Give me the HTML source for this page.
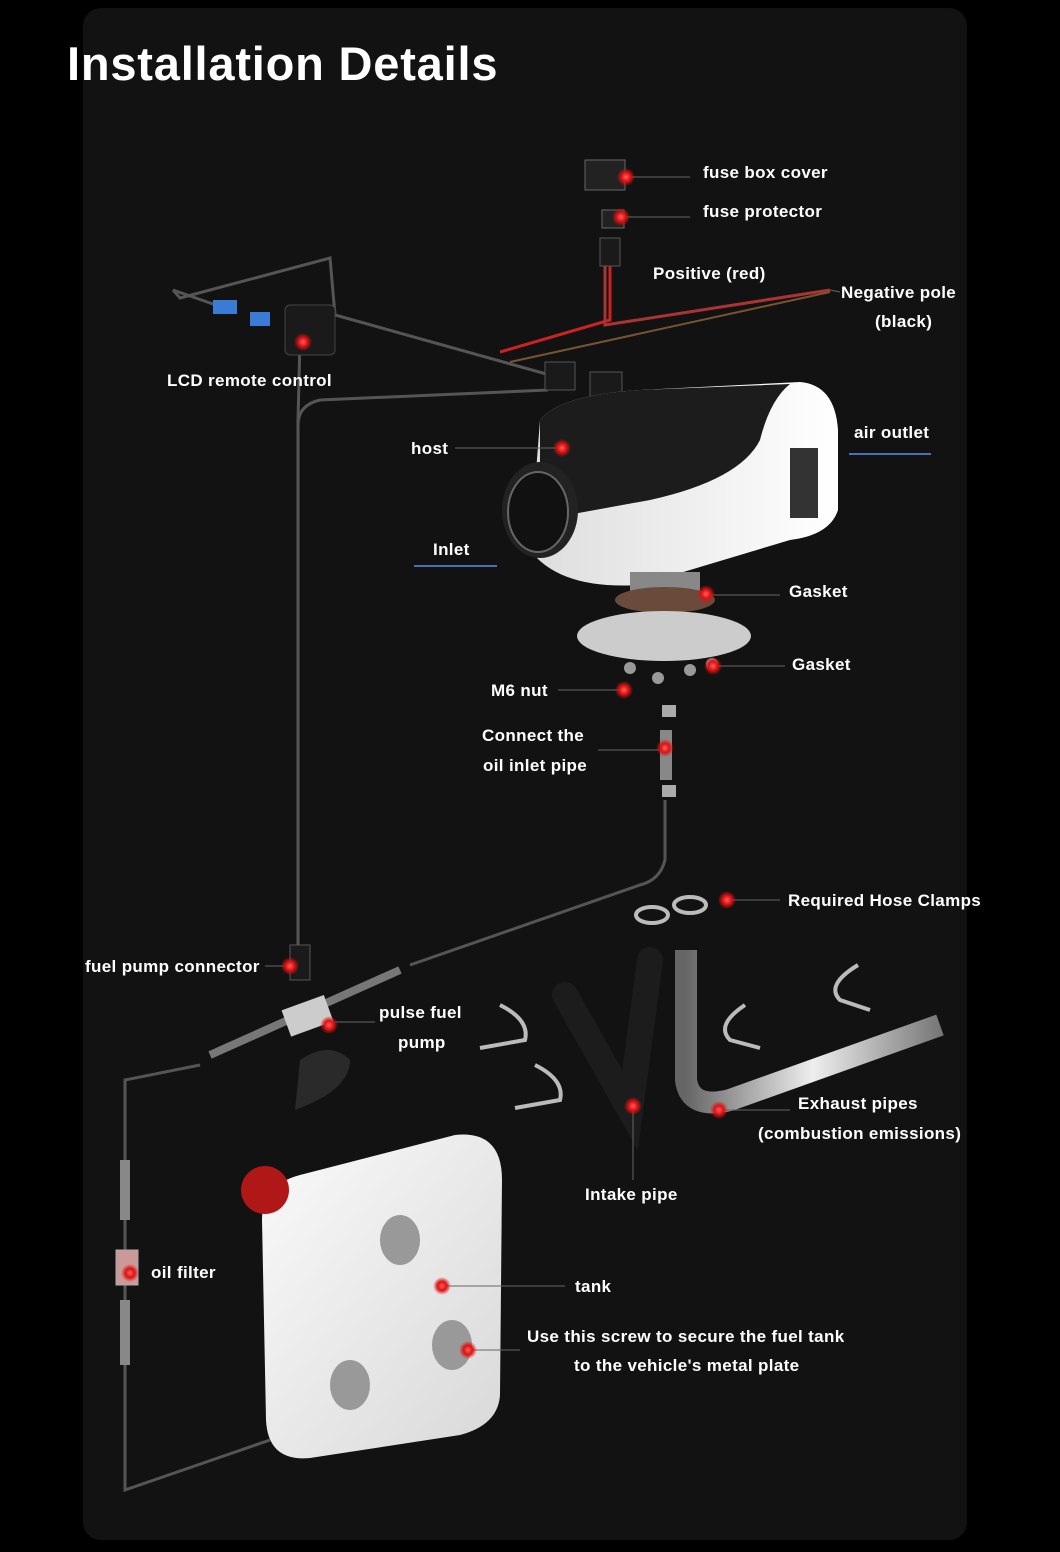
<!DOCTYPE html>
<html><head><meta charset="utf-8"><style>
html,body{margin:0;padding:0;background:#000;}
svg{display:block}
text{font-family:"Liberation Sans",sans-serif;fill:#fff;font-weight:bold;font-size:17px;letter-spacing:0.35px}
</style></head><body>
<svg width="1060" height="1552" viewBox="0 0 1060 1552" xmlns="http://www.w3.org/2000/svg">
<defs>
<radialGradient id="dot"><stop offset="0" stop-color="#ff6060"/><stop offset="0.5" stop-color="#e01010"/><stop offset="1" stop-color="#e01010" stop-opacity="0"/></radialGradient>
<linearGradient id="body" x1="0" x2="1"><stop offset="0" stop-color="#ddd"/><stop offset="1" stop-color="#fff"/></linearGradient>
<linearGradient id="tank" x1="0" y1="0" x2="1" y2="1"><stop offset="0" stop-color="#fafafa"/><stop offset="1" stop-color="#d8d8d8"/></linearGradient>
<linearGradient id="pipe" x1="0" x2="1"><stop offset="0" stop-color="#666"/><stop offset="0.5" stop-color="#eee"/><stop offset="1" stop-color="#777"/></linearGradient>
</defs>
<rect width="1060" height="1552" fill="#000"/>
<rect x="83" y="8" width="884" height="1532" rx="18" fill="#121212"/>
<text x="67" y="80" style="font-size:47px;letter-spacing:0.8px">Installation Details</text>

<g fill="none" stroke="#555" stroke-width="3">
<path d="M173 290 L180 298 L330 258 L335 315 L550 375"/>
<path d="M173 290 L230 310 M300 340 L298 420 L298 950"/>
<path d="M548 390 L320 400 Q298 405 298 425"/>
<path d="M665 800 L665 860 Q660 880 640 885 L410 965"/>
<path d="M200 1065 L125 1080 L125 1490 L270 1440"/>
</g>
<path d="M610 250 L610 320 L500 352" stroke="#c22" stroke-width="3" fill="none"/>
<path d="M605 250 L605 325 L830 290" stroke="#a33" stroke-width="3" fill="none"/>
<path d="M510 362 L830 292" stroke="#753" stroke-width="2" fill="none"/>

<rect x="585" y="160" width="40" height="30" fill="#222" stroke="#666"/>
<rect x="602" y="210" width="22" height="18" fill="#222" stroke="#666"/>
<rect x="600" y="238" width="20" height="28" fill="#1a1a1a" stroke="#555"/>
<rect x="285" y="305" width="50" height="50" rx="5" fill="#1a1a1a" stroke="#444"/>
<rect x="213" y="300" width="24" height="14" fill="#3a7bd5"/>
<rect x="250" y="312" width="20" height="14" fill="#3a7bd5"/>
<rect x="545" y="362" width="30" height="28" fill="#1a1a1a" stroke="#555"/>
<rect x="590" y="372" width="32" height="26" fill="#1a1a1a" stroke="#555"/>
<rect x="290" y="945" width="20" height="35" fill="#1a1a1a" stroke="#555"/>

<path d="M540 420 Q560 395 640 390 L800 382 Q835 385 838 430 L838 510 Q830 535 790 540 L640 585 Q560 590 530 550 Z" fill="url(#body)"/>
<path d="M540 420 Q560 395 640 390 L790 384 Q770 400 760 440 Q740 480 650 500 L540 520 Z" fill="#1c1c1c"/>
<ellipse cx="540" cy="510" rx="38" ry="48" fill="#222"/>
<ellipse cx="538" cy="512" rx="30" ry="40" fill="#111" stroke="#666" stroke-width="2"/>
<rect x="790" y="448" width="28" height="70" fill="#333"/>
<rect x="630" y="572" width="70" height="22" fill="#888"/>
<ellipse cx="665" cy="600" rx="50" ry="13" fill="#6a4a3a"/>
<ellipse cx="664" cy="636" rx="87" ry="25" fill="#ccc"/>
<g fill="#999"><circle cx="630" cy="668" r="6"/><circle cx="658" cy="678" r="6"/><circle cx="690" cy="670" r="6"/><circle cx="712" cy="664" r="6"/></g>
<rect x="662" y="705" width="14" height="12" fill="#aaa"/>
<rect x="660" y="730" width="12" height="50" fill="#888"/>
<rect x="662" y="785" width="14" height="12" fill="#aaa"/>

<path d="M210 1055 L400 970" stroke="#777" stroke-width="8"/>
<rect x="285" y="1002" width="45" height="28" fill="#ccc" transform="rotate(-20 307 1016)"/>
<path d="M300 1060 Q330 1040 350 1060 Q350 1090 295 1110 Z" fill="#2a2a2a"/>
<rect x="116" y="1250" width="22" height="35" fill="#c99" stroke="#aaa"/>
<rect x="120" y="1160" width="10" height="60" fill="#888"/><rect x="120" y="1300" width="10" height="65" fill="#888"/>

<path d="M565 995 L630 1110 L650 960" stroke="#1c1c1c" stroke-width="26" fill="none" stroke-linecap="round"/>
<path d="M686 950 L686 1080 Q690 1110 730 1100 L940 1025" stroke="url(#pipe)" stroke-width="22" fill="none"/>
<g fill="none" stroke="#bbb" stroke-width="4">
<path d="M500 1005 Q530 1020 525 1040 L480 1048"/>
<path d="M535 1065 Q565 1080 560 1100 L515 1108"/>
<path d="M745 1005 Q715 1025 730 1040 L760 1048"/>
<path d="M858 965 Q825 985 840 1000 L870 1010"/>
<ellipse cx="652" cy="915" rx="16" ry="8"/><ellipse cx="690" cy="905" rx="16" ry="8"/>
</g>

<path d="M300 1175 L455 1135 Q502 1130 502 1180 L500 1395 Q498 1425 460 1435 L310 1458 Q268 1462 266 1420 L262 1220 Q262 1185 300 1175 Z" fill="url(#tank)"/>
<circle cx="265" cy="1190" r="24" fill="#b01818"/>
<ellipse cx="400" cy="1240" rx="20" ry="25" fill="#999"/>
<ellipse cx="452" cy="1345" rx="20" ry="25" fill="#999"/>
<ellipse cx="350" cy="1385" rx="20" ry="25" fill="#999"/>

<g stroke="#666" stroke-width="1" fill="none">
<line x1="626" y1="177" x2="690" y2="177"/><line x1="621" y1="217" x2="690" y2="217"/>
<line x1="830" y1="290" x2="840" y2="292"/>
<line x1="455" y1="448" x2="560" y2="448"/>
<line x1="705" y1="595" x2="780" y2="595"/><line x1="712" y1="666" x2="785" y2="666"/>
<line x1="558" y1="690" x2="623" y2="690"/><line x1="598" y1="750" x2="664" y2="750"/>
<line x1="726" y1="900" x2="780" y2="900"/><line x1="265" y1="966" x2="288" y2="966"/>
<line x1="633" y1="1108" x2="633" y2="1180"/><line x1="720" y1="1110" x2="790" y2="1110"/>
<line x1="442" y1="1286" x2="565" y2="1286"/><line x1="468" y1="1350" x2="520" y2="1350"/>
<line x1="327" y1="1022" x2="375" y2="1022"/>
</g>
<line x1="849" y1="454" x2="931" y2="454" stroke="#4a6fb5" stroke-width="2"/>
<line x1="414" y1="566" x2="497" y2="566" stroke="#4a6fb5" stroke-width="2"/>

<g fill="url(#dot)">
<circle cx="626" cy="177" r="9"/><circle cx="621" cy="217" r="9"/><circle cx="303" cy="342" r="9"/>
<circle cx="562" cy="448" r="9"/><circle cx="706" cy="594" r="9"/><circle cx="713" cy="666" r="9"/>
<circle cx="624" cy="690" r="9"/><circle cx="665" cy="748" r="9"/><circle cx="727" cy="900" r="9"/>
<circle cx="290" cy="966" r="9"/><circle cx="329" cy="1025" r="9"/><circle cx="633" cy="1106" r="9"/>
<circle cx="719" cy="1110" r="9"/><circle cx="130" cy="1273" r="9"/><circle cx="442" cy="1286" r="9"/>
<circle cx="468" cy="1350" r="9"/>
</g>

<text x="703" y="178">fuse box cover</text>
<text x="703" y="217">fuse protector</text>
<text x="653" y="279">Positive (red)</text>
<text x="841" y="298">Negative pole</text>
<text x="875" y="327">(black)</text>
<text x="167" y="386">LCD remote control</text>
<text x="854" y="438">air outlet</text>
<text x="411" y="454">host</text>
<text x="433" y="555">Inlet</text>
<text x="789" y="597">Gasket</text>
<text x="792" y="670">Gasket</text>
<text x="491" y="696">M6 nut</text>
<text x="482" y="741">Connect the</text>
<text x="483" y="771">oil inlet pipe</text>
<text x="788" y="906">Required Hose Clamps</text>
<text x="85" y="972">fuel pump connector</text>
<text x="379" y="1018">pulse fuel</text>
<text x="398" y="1048">pump</text>
<text x="798" y="1109">Exhaust pipes</text>
<text x="758" y="1139">(combustion emissions)</text>
<text x="585" y="1200">Intake pipe</text>
<text x="151" y="1278">oil filter</text>
<text x="575" y="1292">tank</text>
<text x="527" y="1342">Use this screw to secure the fuel tank</text>
<text x="574" y="1371">to the vehicle's metal plate</text>
</svg>
</body></html>
